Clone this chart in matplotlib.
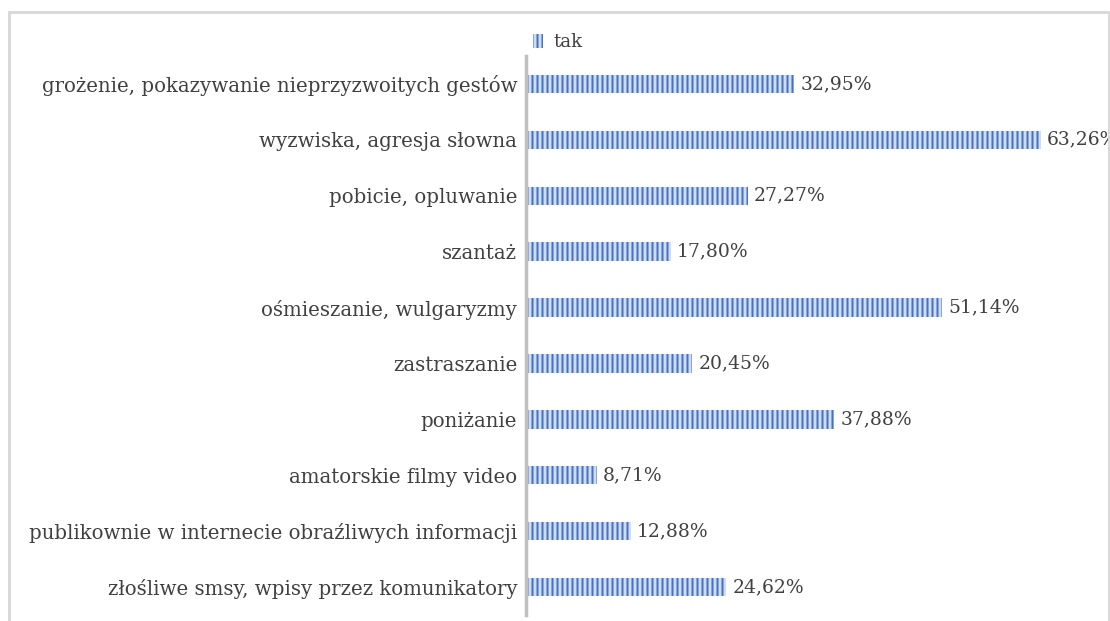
import matplotlib
matplotlib.use('Agg')
import matplotlib.pyplot as plt
from matplotlib.patches import Rectangle

categories = [
    'grożenie, pokazywanie nieprzyzwoitych gestów',
    'wyzwiska, agresja słowna',
    'pobicie, opluwanie',
    'szantaż',
    'ośmieszanie, wulgaryzmy',
    'zastraszanie',
    'poniżanie',
    'amatorskie filmy video',
    'publikownie w internecie obraźliwych informacji',
    'złośliwe smsy, wpisy przez komunikatory',
]
values = [32.95, 63.26, 27.27, 17.80, 51.14, 20.45, 37.88, 8.71, 12.88, 24.62]
series_name = 'tak'

DPI = 90
plt.rcParams['font.family'] = 'DejaVu Serif'
plt.rcParams['hatch.linewidth'] = 1.6

text_color = '#404040'
fs = 15.8

fig = plt.figure(figsize=(1110 / DPI, 621 / DPI), dpi=DPI)
ax = fig.add_axes([526 / 1110, 6 / 621, 584 / 1110, 559 / 621])

y = list(range(len(categories)))
bars = ax.barh(y, values, height=0.33, color='#cfdcf2', edgecolor='#4472c4',
               linewidth=0, hatch='|||', label=series_name)

# value labels, polish decimal comma
for yi, v in zip(y, values):
    ax.text(v + 0.75, yi, f'{v:.2f}%'.replace('.', ','), va='center', ha='left',
            fontsize=fs - 0.8, color=text_color, clip_on=False)

ax.set_yticks(y)
ax.set_yticklabels(categories, fontsize=fs, color=text_color)
ax.tick_params(axis='y', length=0, pad=7)
ax.set_ylim(len(categories) - 0.5, -0.5)
ax.set_xlim(0, 71.75)
ax.set_xticks([])

for s in ['top', 'right', 'bottom']:
    ax.spines[s].set_visible(False)
ax.spines['left'].set_color('#bfbfbf')
ax.spines['left'].set_linewidth(2.8)

leg = fig.legend(handles=[bars], labels=[series_name], loc='center left',
                 bbox_to_anchor=(533 / 1110, 1 - 42 / 621), frameon=False,
                 fontsize=14.5, handlelength=0.55, handleheight=0.8,
                 handletextpad=0.55, borderpad=0, borderaxespad=0)
for t in leg.get_texts():
    t.set_color(text_color)

fig.patches.append(Rectangle((8.5 / 1110, -0.1), 1100 / 1110, (621 - 11.5) / 621 + 0.1,
                             transform=fig.transFigure, fill=False,
                             edgecolor='#d9d9d9', linewidth=2.4))

fig.savefig('out.png', dpi=DPI)
